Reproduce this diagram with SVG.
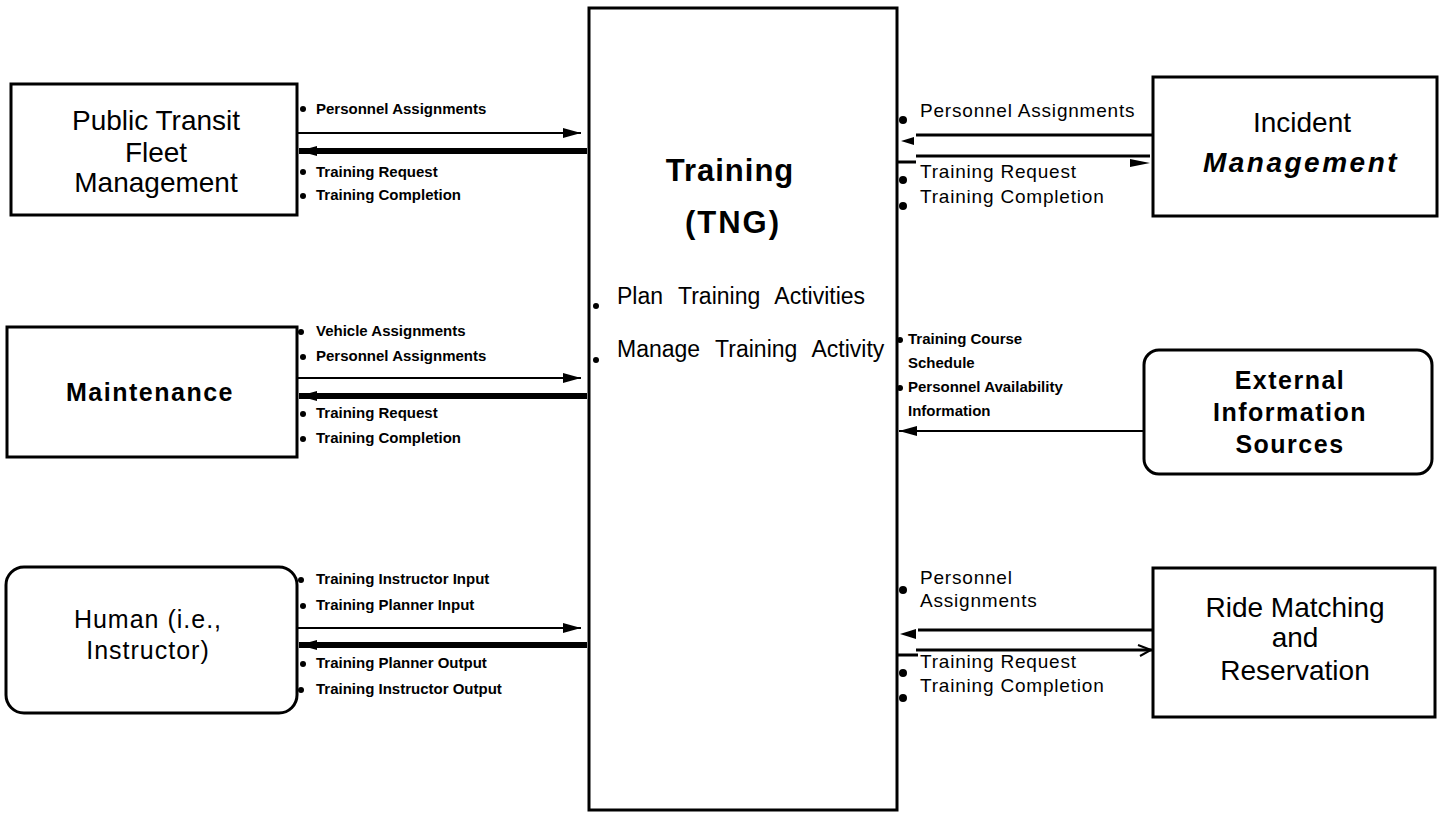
<svg xmlns="http://www.w3.org/2000/svg" width="1453" height="813" viewBox="0 0 1453 813">
<defs>
<style>
.box{fill:#fff;stroke:#000;stroke-width:3}
.lbl{font-family:"Liberation Sans",Arial,sans-serif;font-size:15px;font-weight:bold;fill:#000}
.rl{font-family:"Liberation Sans",Arial,sans-serif;font-size:19px;letter-spacing:0.8px;fill:#000}
.node{font-family:"Liberation Sans",Arial,sans-serif;font-size:28px;text-anchor:middle;fill:#000}
.nodeb{font-family:"Liberation Sans",Arial,sans-serif;font-size:25px;font-weight:bold;letter-spacing:1.5px;text-anchor:middle;fill:#000}
.nodem{font-family:"Liberation Sans",Arial,sans-serif;font-size:25px;letter-spacing:1px;text-anchor:middle;fill:#000}
.ctr{font-family:"Liberation Sans",Arial,sans-serif;font-size:23px;word-spacing:9px;fill:#000}
.ttl{font-family:"Liberation Sans",Arial,sans-serif;font-size:31px;font-weight:bold;text-anchor:middle;fill:#000}
.thin{stroke:#000;stroke-width:2;fill:none}
.thick{stroke:#000;stroke-width:6;fill:none}
.mid{stroke:#000;stroke-width:3;fill:none}
.dot{fill:#000}
</style>
<marker id="ah" markerUnits="userSpaceOnUse" markerWidth="18" markerHeight="10" refX="18" refY="5" orient="auto"><path d="M0,0 L18,5 L0,10 z" fill="#000"/></marker>
<marker id="ahk" markerUnits="userSpaceOnUse" markerWidth="18" markerHeight="10" refX="18" refY="5" orient="auto"><path d="M0,0 L18,5 L0,10 z" fill="#000"/></marker>
</defs>
<rect width="1453" height="813" fill="#fff"/>

<g id="tng">
<rect class="box" x="589" y="8" width="308" height="802"/>
<text class="ttl" x="730" y="181" letter-spacing="1">Training</text>
<text class="ttl" x="733" y="233" letter-spacing="2">(TNG)</text>
<circle class="dot" cx="596" cy="306" r="3"/>
<text class="ctr" x="617" y="304">Plan Training Activities</text>
<circle class="dot" cx="596" cy="360" r="3"/>
<text class="ctr" x="617" y="357">Manage Training Activity</text>
</g>

<g id="ptfm">
<rect class="box" x="11" y="84" width="286" height="131"/>
<text class="node" x="156" y="130">Public Transit</text>
<text class="node" x="156" y="162">Fleet</text>
<text class="node" x="156" y="192">Management</text>
</g>

<g id="maint">
<rect class="box" x="7" y="327" width="290" height="130"/>
<text class="nodeb" x="150" y="401">Maintenance</text>
</g>

<g id="human">
<rect class="box" x="6" y="567" width="291" height="146" rx="18"/>
<text class="nodem" x="148" y="628">Human (i.e.,</text>
<text class="nodem" x="148" y="659">Instructor)</text>
</g>

<g id="incident">
<rect class="box" x="1153" y="77" width="284" height="139"/>
<text class="node" x="1302" y="132" font-size="27">Incident</text>
<text class="node" x="1301" y="172" font-size="24" font-weight="bold" font-style="italic" letter-spacing="2.5">Management</text>
</g>

<g id="external">
<rect class="box" x="1144" y="350" width="288" height="124" rx="15"/>
<text class="nodeb" x="1290" y="389" font-size="24">External</text>
<text class="nodeb" x="1290" y="421" font-size="24">Information</text>
<text class="nodeb" x="1290" y="453" font-size="24">Sources</text>
</g>

<g id="ridematch">
<rect class="box" x="1153" y="568" width="282" height="149"/>
<text class="node" x="1295" y="617" font-size="27">Ride Matching</text>
<text class="node" x="1295" y="647" font-size="27">and</text>
<text class="node" x="1295" y="680" font-size="27">Reservation</text>
</g>

<g id="connectors">
<line class="thin" x1="297" y1="133" x2="581" y2="133" marker-end="url(#ah)"/>
<line class="thick" x1="587" y1="151" x2="299" y2="151" marker-end="url(#ahk)"/>
<line class="thin" x1="297" y1="378" x2="581" y2="378" marker-end="url(#ah)"/>
<line class="thick" x1="587" y1="396" x2="299" y2="396" marker-end="url(#ahk)"/>
<line class="thin" x1="297" y1="628" x2="581" y2="628" marker-end="url(#ah)"/>
<line class="thick" x1="587" y1="645" x2="299" y2="645" marker-end="url(#ahk)"/>
<line class="mid" x1="916" y1="135" x2="1153" y2="135"/>
<polygon points="901,141 914,137 914,145" fill="#000"/>
<line class="mid" x1="916" y1="156" x2="1150" y2="156"/>
<line class="mid" x1="897" y1="162" x2="916" y2="162"/>
<polygon points="1150,163 1130,159 1130,167" fill="#000"/>
<line class="thin" x1="1144" y1="431" x2="899" y2="431" marker-end="url(#ah)"/>
<line class="mid" x1="918" y1="630" x2="1153" y2="630"/>
<polygon points="900,634 916,629 916,639" fill="#000"/>
<line class="mid" x1="916" y1="650" x2="1153" y2="650"/>
<line class="mid" x1="897" y1="655" x2="918" y2="655"/>
<polyline class="thin" points="1138,645 1151,650 1140,656"/>
</g>

<g id="labels">
<circle class="dot" cx="303" cy="109" r="3"/><text class="lbl" x="316" y="114">Personnel Assignments</text>
<circle class="dot" cx="303" cy="172" r="3"/><text class="lbl" x="316" y="177">Training Request</text>
<circle class="dot" cx="303" cy="196" r="3"/><text class="lbl" x="316" y="200">Training Completion</text>

<circle class="dot" cx="301" cy="332" r="3"/><text class="lbl" x="316" y="336">Vehicle Assignments</text>
<circle class="dot" cx="303" cy="357" r="3"/><text class="lbl" x="316" y="361">Personnel Assignments</text>
<circle class="dot" cx="303" cy="414" r="3"/><text class="lbl" x="316" y="418">Training Request</text>
<circle class="dot" cx="303" cy="439" r="3"/><text class="lbl" x="316" y="443">Training Completion</text>

<circle class="dot" cx="301" cy="580" r="3"/><text class="lbl" x="316" y="584">Training Instructor Input</text>
<circle class="dot" cx="303" cy="606" r="3"/><text class="lbl" x="316" y="610">Training Planner Input</text>
<circle class="dot" cx="303" cy="664" r="3"/><text class="lbl" x="316" y="668">Training Planner Output</text>
<circle class="dot" cx="301" cy="690" r="3"/><text class="lbl" x="316" y="694">Training Instructor Output</text>

<circle class="dot" cx="903" cy="120" r="4"/><text class="rl" x="920" y="117">Personnel Assignments</text>
<circle class="dot" cx="903" cy="180" r="4"/><text class="rl" x="920" y="178">Training Request</text>
<circle class="dot" cx="903" cy="206" r="4"/><text class="rl" x="920" y="203">Training Completion</text>

<circle class="dot" cx="900" cy="340" r="3"/><text class="lbl" x="908" y="344">Training Course</text>
<text class="lbl" x="908" y="368">Schedule</text>
<circle class="dot" cx="900" cy="388" r="3"/><text class="lbl" x="908" y="392">Personnel Availability</text>
<text class="lbl" x="908" y="416">Information</text>

<circle class="dot" cx="903" cy="590" r="4"/><text class="rl" x="920" y="584">Personnel</text>
<text class="rl" x="920" y="607">Assignments</text>
<circle class="dot" cx="903" cy="673" r="4"/><text class="rl" x="920" y="668">Training Request</text>
<circle class="dot" cx="903" cy="698" r="4"/><text class="rl" x="920" y="692">Training Completion</text>
</g>
</svg>
